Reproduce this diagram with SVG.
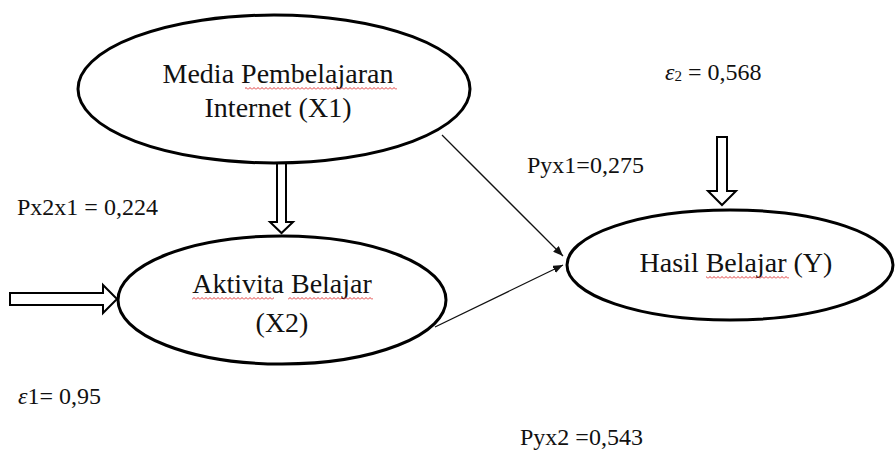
<svg xmlns="http://www.w3.org/2000/svg" width="895" height="452" viewBox="0 0 895 452">
<style>
.node{fill:#fff;stroke:#000;stroke-width:3}
.nt{font-family:"Liberation Serif","Times New Roman",serif;font-size:28px;fill:#111;text-anchor:middle}
.lb{font-family:"Liberation Serif","Times New Roman",serif;font-size:24px;fill:#111}
.thin{stroke:#111;stroke-width:1.3;fill:none;marker-end:url(#ah)}
.hollow{fill:#fff;stroke:#000;stroke-width:2;stroke-linejoin:miter}
.sq{fill:url(#sqp)}
</style>
<defs>
<marker id="ah" viewBox="0 0 10 8" refX="10" refY="4" markerWidth="10" markerHeight="8" markerUnits="userSpaceOnUse" orient="auto">
<path d="M0,0 L10,4 L0,8 Z" fill="#111"/>
</marker>
<pattern id="sqp" width="4" height="3" patternUnits="userSpaceOnUse">
<path d="M0,2.5 L2,0.5 L4,2.5" fill="none" stroke="#d22" stroke-width="0.9"/>
</pattern>
</defs>
<rect width="895" height="452" fill="#fff"/>
<g id="connectors">
<line class="thin" x1="442" y1="135" x2="563" y2="256"/>
<line class="thin" x1="435" y1="327" x2="563" y2="265"/>
<polygon class="hollow" points="277,163 286,163 286,222 293,222 281.5,233 270,222 277,222"/>
<polygon class="hollow" points="10,293 103,293 103,285 117,299 103,313 103,305 10,305"/>
<polygon class="hollow" points="717,137 727,137 727,191 736,191 722,205 708,191 717,191"/>
</g>
<g id="node-x1">
<ellipse class="node" cx="274" cy="89" rx="196" ry="74"/>
<text class="nt" x="278" y="83">Media Pembelajaran</text>
<text class="nt" x="278" y="117">Internet (X1)</text>
<rect class="sq" x="245" y="87" width="152" height="3"/>
</g>
<g id="node-x2">
<ellipse class="node" cx="282" cy="300" rx="164" ry="64"/>
<text class="nt" x="282" y="293">Aktivita Belajar</text>
<text class="nt" x="282" y="332">(X2)</text>
<rect class="sq" x="192" y="297" width="82" height="3"/>
<rect class="sq" x="288" y="297" width="85" height="3"/>
</g>
<g id="node-y">
<ellipse class="node" cx="730" cy="265" rx="163" ry="55"/>
<text class="nt" x="736" y="272">Hasil Belajar (Y)</text>
<rect class="sq" x="706" y="276" width="83" height="3"/>
</g>
<g id="labels">
<text class="lb" x="17" y="215">Px2x1 = 0,224</text>
<text class="lb" x="527" y="173">Pyx1=0,275</text>
<text class="lb" x="665" y="80"><tspan font-style="italic">ε</tspan><tspan font-size="15" dy="1">2</tspan><tspan dy="-1"> = 0,568</tspan></text>
<text class="lb" x="18" y="404"><tspan font-style="italic">ε</tspan>1= 0,95</text>
<text class="lb" x="520" y="445">Pyx2 =0,543</text>
</g>
</svg>
